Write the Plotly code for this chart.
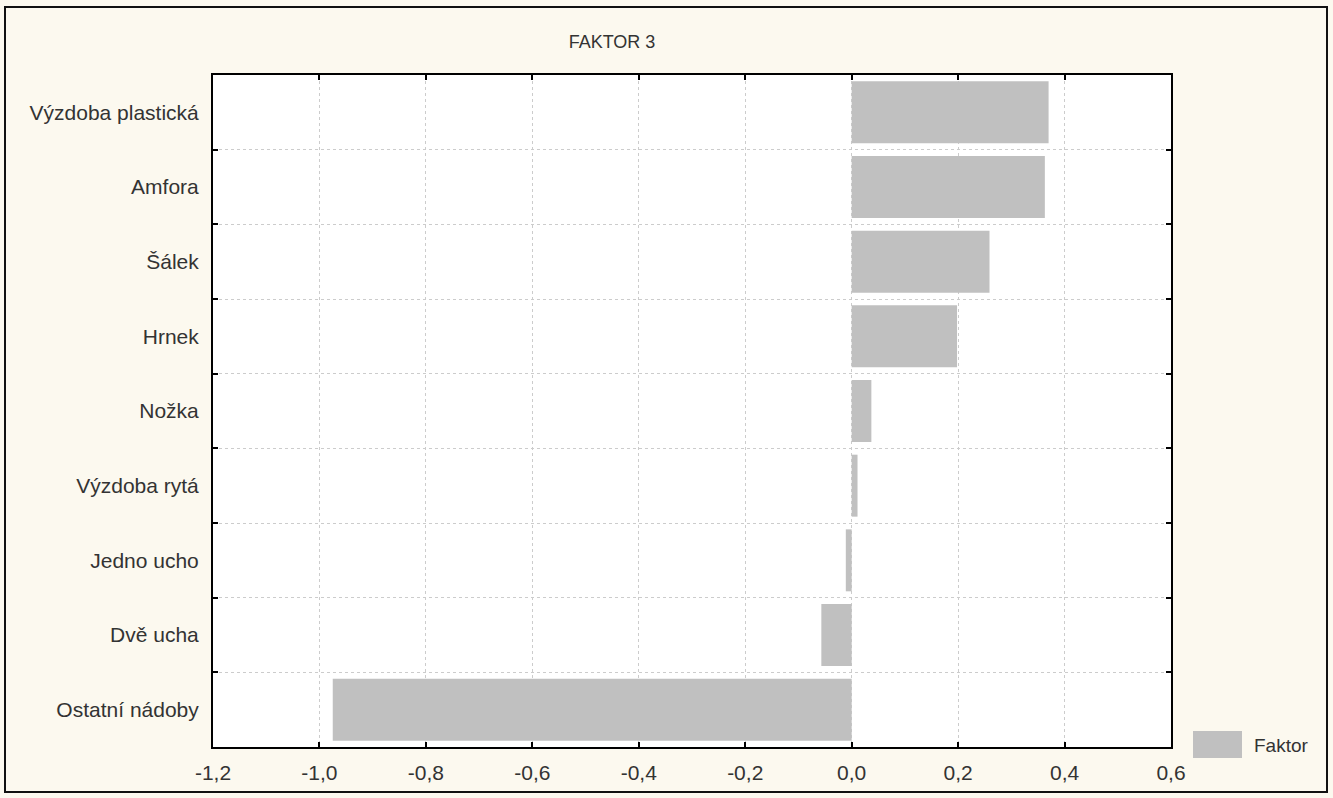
import plotly.graph_objects as go

categories = ["Výzdoba plastická", "Amfora", "Šálek", "Hrnek", "Nožka",
              "Výzdoba rytá", "Jedno ucho", "Dvě ucha", "Ostatní nádoby"]
values = [0.370, 0.363, 0.259, 0.198, 0.037, 0.011, -0.011, -0.057, -0.975]
x_ticks = [-1.2, -1.0, -0.8, -0.6, -0.4, -0.2, 0.0, 0.2, 0.4, 0.6]
x_tick_labels = ["-1,2", "-1,0", "-0,8", "-0,6", "-0,4", "-0,2", "0,0", "0,2", "0,4", "0,6"]
series_name = "Faktor"
title_text = "FAKTOR 3"

W, H = 1333, 798
L, R, T, B = 213, 162, 75, 51
pw, ph = W - L - R, H - T - B

def px_x(p):
    return (p - L) / pw

def px_y(p):
    return (H - B - p) / ph

FONT = "Liberation Sans, Arial, sans-serif"
TXT = "#333333"
BAR = "#c0c0c0"

fig = go.Figure()
fig.add_trace(go.Bar(
    x=values, y=categories, orientation="h", name=series_name,
    marker=dict(color=BAR, line=dict(width=0)), showlegend=False,
))

fig.update_layout(
    width=W, height=H,
    margin=dict(l=L, r=R, t=T, b=B, autoexpand=False),
    paper_bgcolor="#fcf9ef", plot_bgcolor="#ffffff",
    bargap=0.17,
    font=dict(family=FONT, size=21, color=TXT),
    title=dict(text=title_text, x=612 / W, y=1 - 42 / H, xanchor="center",
               yanchor="middle", font=dict(family=FONT, size=18, color=TXT)),
    xaxis=dict(
        range=[-1.2, 0.6], tickvals=x_ticks, ticktext=x_tick_labels,
        showline=True, linecolor="#000", linewidth=2, mirror="ticks",
        ticks="inside", ticklen=5, tickwidth=2, tickcolor="#000",
        showgrid=True, gridcolor="#cccccc", griddash="dot", gridwidth=1,
        zeroline=False, ticklabelstandoff=6,
        tickfont=dict(family=FONT, size=21, color=TXT),
    ),
    yaxis=dict(
        type="category", categoryorder="array", categoryarray=categories,
        autorange="reversed", tickson="boundaries",
        showline=True, linecolor="#000", linewidth=2, mirror="ticks",
        ticks="inside", ticklen=5, tickwidth=2, tickcolor="#000",
        showgrid=True, gridcolor="#cccccc", griddash="dot", gridwidth=1,
        ticklabelstandoff=8,
        tickfont=dict(family=FONT, size=21, color=TXT),
    ),
)

# outer frame
fig.add_shape(type="rect", xref="paper", yref="paper",
              x0=px_x(5), x1=px_x(1327), y0=px_y(792), y1=px_y(7),
              line=dict(color="#111", width=2), fillcolor="rgba(0,0,0,0)")

# legend swatch + label
fig.add_shape(type="rect", xref="paper", yref="paper",
              x0=px_x(1193), x1=px_x(1242), y0=px_y(758), y1=px_y(731),
              line=dict(width=0), fillcolor=BAR)
fig.add_annotation(xref="paper", yref="paper", x=px_x(1252), y=px_y(745),
                   text=series_name, showarrow=False, xanchor="left",
                   yanchor="middle", font=dict(family=FONT, size=19, color=TXT))

fig.write_html("out.html", config={"displayModeBar": False},
               post_script="document.body.style.margin='0';document.body.style.overflow='hidden';")
